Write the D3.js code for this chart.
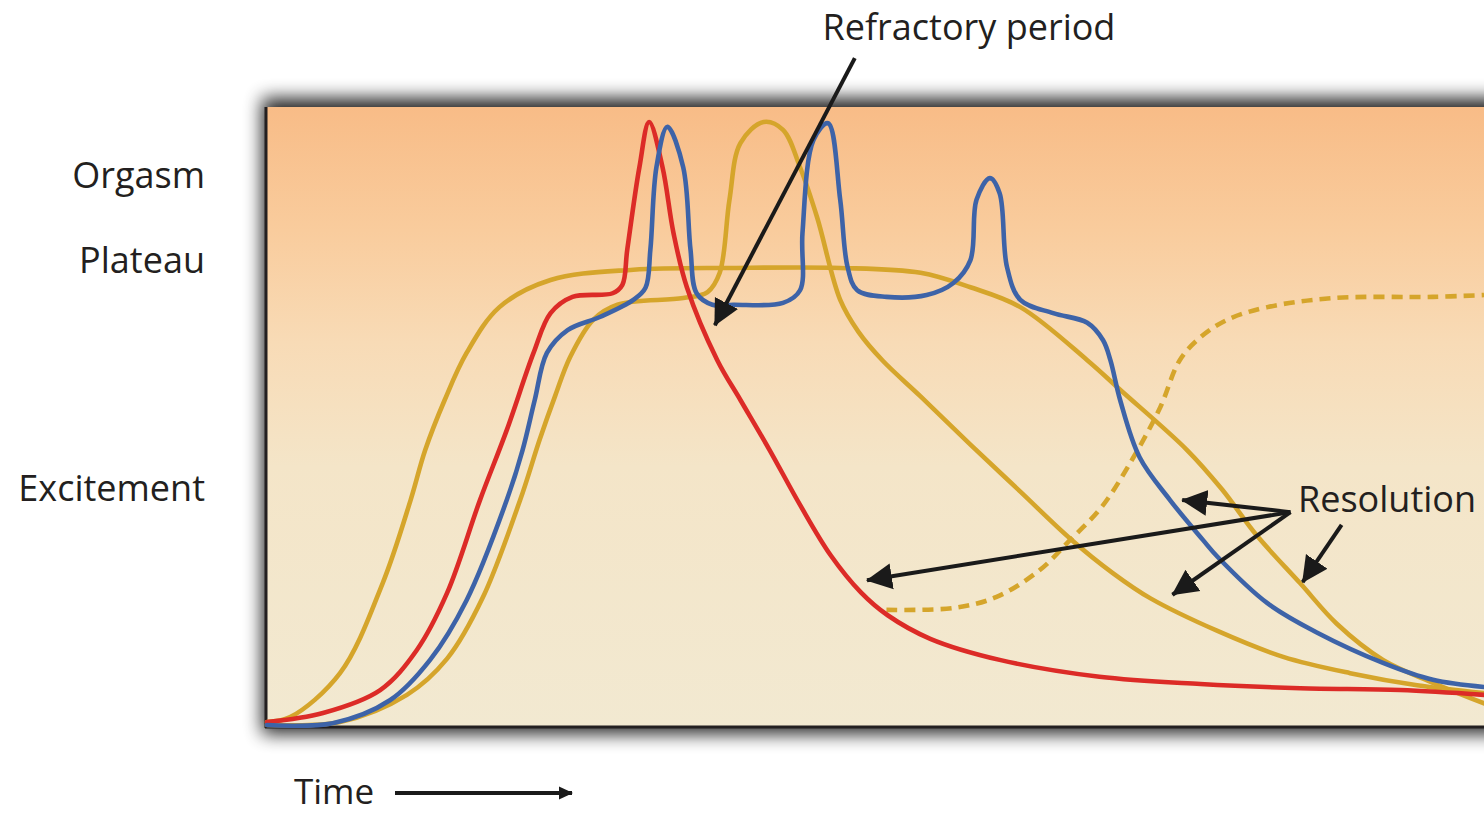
<!DOCTYPE html>
<html><head><meta charset="utf-8">
<script src="https://cdn.jsdelivr.net/npm/d3@7"></script>
<style>
body{margin:0;background:#fff;}
svg{display:block;}
text{font-family:'Open Sans',sans-serif;fill:#231f20;}
</style>
</head><body>
<svg id="c" width="1484" height="816"></svg>
<script>
// ---- data (time 0-100, arousal 0-100) ----
const stageLabels = ["Excitement", "Plateau", "Orgasm"];
const stageLevels = [39.2, 76.9, 91.1];

const redCurve = [[0,0.5],[4.6,2.0],[9.3,5.8],[12.3,12.4],[14.8,21.9],[17.5,37.3],[19.7,48.9],[21.9,61.7],[23.3,68.3],[25.1,71.0],[28.4,71.6],[29.2,73.0],[29.6,78.8],[30.6,92.5],[31.4,100],[32.5,92.5],[33.4,81.6],[34.5,72.6],[37.0,60.5],[38.9,53.9],[41.3,45.6],[43.8,36.5],[46.3,28.2],[48.8,22.0],[51.0,18.2],[54.5,14.3],[60.2,10.8],[68.4,8.0],[76.7,6.8],[84.9,6.1],[93.1,5.8],[100,5.0]];

const blueCurve = [[0,0],[5.4,0.3],[10.1,4.1],[13.4,10.8],[16.4,20.7],[19.7,37.3],[21.0,45.6],[22.0,53.9],[23.0,61.7],[24.7,65.5],[27.4,67.7],[30.1,70.5],[31.1,72.5],[31.5,78.8],[32.0,92.5],[32.9,99.2],[34.2,92.5],[34.8,78.8],[35.3,71.6],[36.6,69.7],[38.3,69.7],[42.4,70.0],[43.8,72.1],[44.0,81.6],[44.9,97.0],[46.1,99.8],[47.1,87.1],[47.7,76.0],[48.5,72.1],[50.9,71.0],[54.2,71.3],[56.4,73.3],[57.8,77.1],[58.3,87.1],[59.4,90.7],[60.2,88.2],[60.8,76.0],[61.9,70.5],[64.6,68.3],[67.4,66.7],[68.7,63.8],[69.3,60.5],[70.1,53.9],[71.7,44.4],[74.2,37.3],[76.9,30.7],[78.1,27.9],[82.2,20.2],[86.3,15.3],[91.7,10.3],[95.8,7.5],[100,6.3]];

const goldPlateauCurve = [[0,0.5],[1.9,1.3],[6.0,8.6],[9.5,23.5],[11.8,37.3],[13.0,45.6],[14.6,53.9],[16.4,61.7],[19.1,69.3],[23.3,73.8],[30.1,75.5],[38.3,75.8],[47.1,75.8],[53.7,75.0],[57.8,72.6],[61.9,69.3],[67.4,60.5],[70.1,55.6],[75.6,45.6],[78.5,39.0],[81.3,31.5],[84.9,23.5],[87.9,16.8],[91.7,10.8],[95.8,7.0],[100,3.6]];

const goldOrgasmCurve = [[0,0],[6.0,0.5],[11.5,5.0],[14.8,11.0],[17.7,21.0],[20.8,37.3],[22.4,47.3],[23.7,54.7],[24.9,61.0],[26.8,67.2],[28.8,69.7],[34.2,70.8],[36.2,71.8],[37.2,75.0],[38.0,87.1],[38.9,96.5],[40.8,100],[42.4,98.7],[43.8,92.5],[45.2,84.2],[47.1,70.5],[48.6,65.2],[50.6,60.4],[53.7,54.5],[57.8,46.5],[61.9,38.7],[66.0,30.9],[69.5,25.2],[72.6,21.0],[78.1,15.6],[83.5,11.3],[89.0,8.6],[94.5,6.6],[100,5.3]];

const goldSecondCurve = [[50.9,19.1],[56.4,19.4],[59.9,21.2],[63.5,25.7],[66.0,30.7],[68.6,36.2],[71.2,44.4],[73.4,52.7],[75.0,60.5],[76.7,64.3],[78.9,67.2],[82.2,69.3],[87.6,70.8],[95.8,71.0],[100,71.3]];

// annotation arrows: [fromT, fromA, toT, toA]
const refractoryArrow = [[48.3,110.6,36.8,66.3]];
const resolutionArrows = [[84.1,35.3,75.2,37.3],[84.1,35.3,49.3,24.0],[84.1,35.3,74.4,21.6],[88.3,33.2,85.1,23.7]];

// ---- drawing ----
const svg = d3.select("#c");
const x = d3.scaleLinear().domain([0,100]).range([267,1484]);
const y = d3.scaleLinear().domain([0,100]).range([725,122]);

const defs = svg.append("defs");
const grad = defs.append("linearGradient").attr("id","bg")
  .attr("gradientUnits","userSpaceOnUse").attr("x1",0).attr("y1",107).attr("x2",0).attr("y2",727);
[[0,"#f8bc87"],[0.2,"#f9cc9d"],[0.38,"#f8dbb6"],[0.58,"#f4e5c8"],[1,"#f2e9d1"]]
  .forEach(([o,c])=>grad.append("stop").attr("offset",o).attr("stop-color",c));
const blur = defs.append("filter").attr("id","sh").attr("x","-10%").attr("y","-20%").attr("width","120%").attr("height","140%");
blur.append("feGaussianBlur").attr("stdDeviation",9);

defs.append("marker").attr("id","head").attr("markerUnits","userSpaceOnUse")
  .attr("viewBox","0 -15 27 30").attr("refX",25).attr("refY",0)
  .attr("markerWidth",27).attr("markerHeight",30).attr("orient","auto")
  .append("path").attr("d","M0,-13L26,0L0,13Z").attr("fill","#1a1a1a");
defs.append("marker").attr("id","headSmall").attr("markerUnits","userSpaceOnUse")
  .attr("viewBox","0 -8 14 16").attr("refX",13).attr("refY",0)
  .attr("markerWidth",14).attr("markerHeight",16).attr("orient","auto")
  .append("path").attr("d","M0,-6.5L14,0L0,6.5Z").attr("fill","#1a1a1a");

// box shadow + background
svg.append("rect").attr("x",262).attr("y",98).attr("width",1262).attr("height",636)
  .attr("fill","#000").attr("opacity",0.85).attr("filter","url(#sh)");
svg.append("rect").attr("x",267).attr("y",107).attr("width",1240).attr("height",620).attr("fill","url(#bg)");
svg.append("line").attr("x1",266).attr("x2",266).attr("y1",107).attr("y2",728).attr("stroke","#231f20").attr("stroke-width",3);
svg.append("line").attr("x1",265).attr("x2",1500).attr("y1",727).attr("y2",727).attr("stroke","#231f20").attr("stroke-width",3);

// stage labels as left axis
const axis = d3.axisLeft(y).tickValues(stageLevels)
  .tickFormat((d,i)=>stageLabels[i]).tickSize(0).tickPadding(61);
const ag = svg.append("g").attr("transform","translate(266,0)").call(axis);
ag.select(".domain").remove();
ag.selectAll("text").attr("font-family","'Open Sans',sans-serif").attr("font-size",36).attr("fill","#231f20");

const line = d3.line().x(d=>x(d[0])).y(d=>y(d[1])).curve(d3.curveCatmullRom.alpha(0.5));
const series = [
  {data: goldPlateauCurve, color:"#d5a52b", dash:null},
  {data: goldOrgasmCurve, color:"#d5a52b", dash:null},
  {data: goldSecondCurve, color:"#d5a52b", dash:"11,7"},
  {data: redCurve, color:"#dc2b27", dash:null},
  {data: blueCurve, color:"#3d63a8", dash:null}
];
svg.append("g").selectAll("path").data(series).join("path")
  .attr("d",d=>line(d.data)).attr("fill","none")
  .attr("stroke",d=>d.color).attr("stroke-width",4.6)
  .attr("stroke-dasharray",d=>d.dash)
  .attr("stroke-linejoin","round").attr("stroke-linecap",d=>d.dash?"butt":"round");

// arrows
svg.append("g").selectAll("line").data(refractoryArrow.concat(resolutionArrows)).join("line")
  .attr("x1",d=>x(d[0])).attr("y1",d=>y(d[1])).attr("x2",d=>x(d[2])).attr("y2",d=>y(d[3]))
  .attr("stroke","#1a1a1a").attr("stroke-width",4).attr("marker-end","url(#head)");

// annotation texts
svg.append("text").attr("x",969).attr("y",40).attr("text-anchor","middle").attr("font-size",36).text("Refractory period");
svg.append("text").attr("x",1298).attr("y",512).attr("font-size",36).text("Resolution");
svg.append("text").attr("x",294).attr("y",804).attr("font-size",35).text("Time");
svg.append("line").attr("x1",395).attr("x2",572).attr("y1",793).attr("y2",793)
  .attr("stroke","#1a1a1a").attr("stroke-width",4).attr("marker-end","url(#headSmall)");
</script>
</body></html>
